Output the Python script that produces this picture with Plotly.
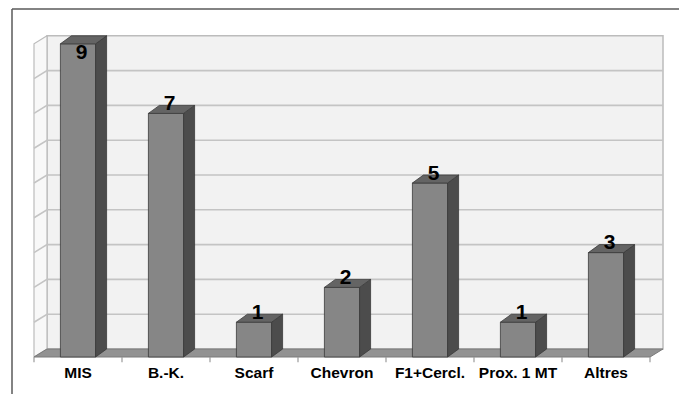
import plotly.graph_objects as go

# Chart data
categories = ["MIS", "B.-K.", "Scarf", "Chevron", "F1+Cercl.", "Prox. 1 MT", "Altres"]
values = [9, 7, 1, 2, 5, 1, 3]
y_max = 9
grid_steps = list(range(1, y_max))

# Oblique-projection geometry in data units
W, H = 679, 394
PX_PER_CAT = 88.0
PX_PER_UNIT = 34.8
X0_PX, Y0_PX = 78.0, 357.0          # pixel of category 0 / value 0 (front plane)
DX, DY = 13.0 / PX_PER_CAT, 8.0 / PX_PER_UNIT        # floor / wall depth
BDX, BDY = 11.0 / PX_PER_CAT, 8.0 / PX_PER_UNIT      # bar depth
HALF = 0.2                                           # half bar width

n = len(categories)
xl, xr = -0.5, n - 0.5

fig = go.Figure()


def poly(xs, ys, fill, line="#3a3a3a", lw=0.8):
    fig.add_trace(go.Scatter(
        x=xs + [xs[0]], y=ys + [ys[0]], mode="lines", fill="toself",
        fillcolor=fill, line=dict(color=line, width=lw),
        hoverinfo="skip", showlegend=False))


# back wall
poly([xl + DX, xr + DX, xr + DX, xl + DX],
     [DY, DY, y_max + DY, y_max + DY], "#f2f2f2", "#bcbcbc", 1.5)
# side wall
poly([xl, xl + DX, xl + DX, xl],
     [0, DY, y_max + DY, y_max], "#f8f8f8", "#bcbcbc", 1.2)

# gridlines on both walls
gx, gy = [], []
for k in grid_steps:
    gx += [xl, xl + DX, xr + DX, None]
    gy += [k, k + DY, k + DY, None]
fig.add_trace(go.Scatter(x=gx, y=gy, mode="lines",
                         line=dict(color="#c4c4c4", width=1.6),
                         hoverinfo="skip", showlegend=False))

# floor
poly([xl, xr, xr + DX, xl + DX], [0, 0, DY, DY], "#929292", "#7a7a7a", 1.0)

# category separator ticks under the floor
tx, ty = [], []
for b in range(n + 1):
    tx += [xl + b, xl + b, None]
    ty += [0, -0.15, None]
fig.add_trace(go.Scatter(x=tx, y=ty, mode="lines",
                         line=dict(color="#9a9a9a", width=1.2),
                         hoverinfo="skip", showlegend=False))

# bars: front, side and top faces
for i, v in enumerate(values):
    poly([i - HALF, i + HALF, i + HALF, i - HALF], [0, 0, v, v], "#868686")
    poly([i + HALF, i + HALF + BDX, i + HALF + BDX, i + HALF],
         [0, BDY, v + BDY, v], "#4c4c4c")
    poly([i - HALF, i + HALF, i + HALF + BDX, i - HALF + BDX],
         [v, v, v + BDY, v + BDY], "#646464")

# value labels above the bars (kept inside the chart at the top)
lab_y = [min(v + BDY + 0.02, y_max - 0.3) for v in values]
fig.add_trace(go.Scatter(
    x=[i + 0.04 for i in range(n)], y=lab_y, mode="text",
    text=[str(v) for v in values], textposition="middle center",
    textfont=dict(family="Liberation Sans", size=21, color="black", weight="bold"),
    hoverinfo="skip", showlegend=False))

# category labels
fig.add_trace(go.Scatter(
    x=list(range(n)), y=[-0.5] * n, mode="text", text=categories,
    textposition="middle center",
    textfont=dict(family="Liberation Sans", size=15.5, color="black", weight="bold"),
    hoverinfo="skip", showlegend=False))

# frame around the chart
fx, fy = 12.0 / W, 1 - 9.0 / H
fig.add_shape(type="line", xref="paper", yref="paper", x0=fx, y0=fy, x1=1.02, y1=fy,
              line=dict(color="#5a5a5a", width=1.5))
fig.add_shape(type="line", xref="paper", yref="paper", x0=fx, y0=fy, x1=fx, y1=-0.02,
              line=dict(color="#5a5a5a", width=1.5))

fig.update_xaxes(range=[-X0_PX / PX_PER_CAT, (W - X0_PX) / PX_PER_CAT],
                 visible=False, fixedrange=True)
fig.update_yaxes(range=[(Y0_PX - H) / PX_PER_UNIT, Y0_PX / PX_PER_UNIT],
                 visible=False, fixedrange=True)
fig.update_layout(width=W, height=H, autosize=False,
                  margin=dict(l=0, r=0, t=0, b=0, pad=0),
                  paper_bgcolor="white", plot_bgcolor="white")

fig.write_html("out.html")
